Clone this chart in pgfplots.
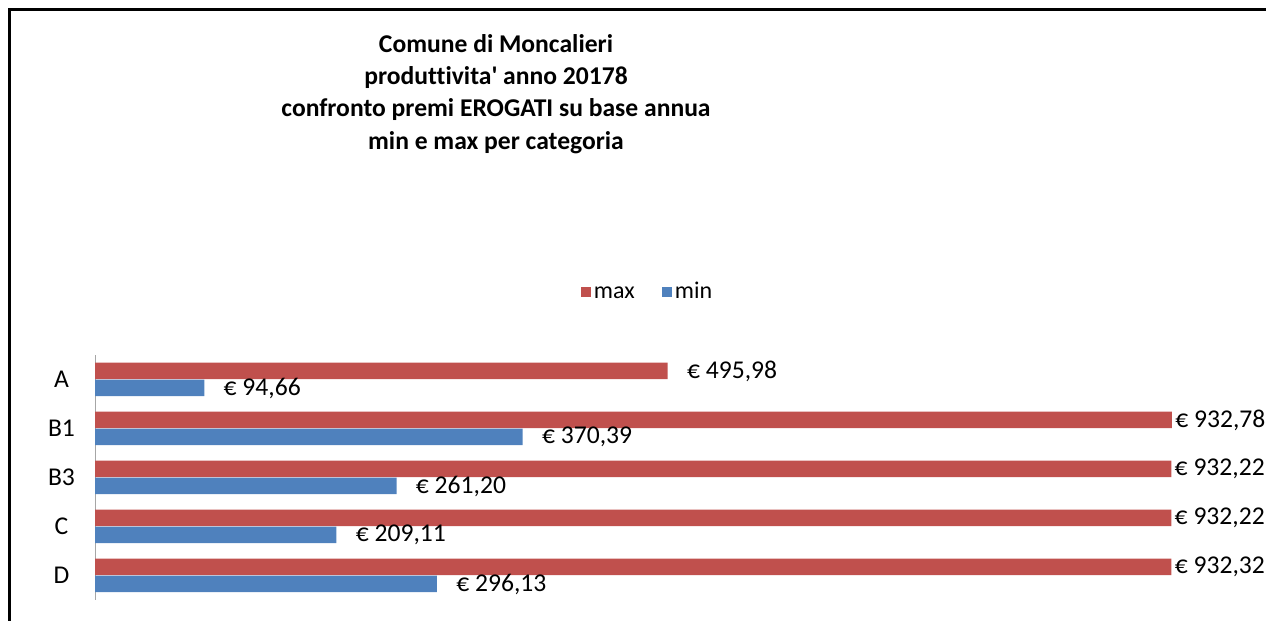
\documentclass[border=0pt]{standalone}
\usepackage{pgfplots}
\pgfplotsset{compat=1.18}
\usepackage{pgfplotstable}
\usepackage{fontspec}
\setmainfont{Carlito}[Ligatures=NoCommon]
\definecolor{cred}{HTML}{C0504D}
\definecolor{cblue}{HTML}{4F81BD}
\pgfplotstableread{
y v lab gap
4 495.98 495,98 9.5
3 932.78 932,78 1.5
2 932.22 932,22 1.5
1 932.22 932,22 1.5
0 932.32 932,32 1.5
}\maxdata
\pgfplotstableread{
y v lab gap
4 94.66 94,66 9.5
3 370.39 370,39 9.5
2 261.20 261,20 9.5
1 209.11 209,11 9.5
0 296.13 296,13 9.5
}\mindata
\begin{document}
\begin{tikzpicture}
\useasboundingbox (0,0) rectangle (633pt,310.5pt);
\draw[line width=1.5pt] (4.5pt,-1pt) -- (4.5pt,305.5pt) -- (640pt,305.5pt);
\node[align=center,font=\bfseries\fontsize{12.8}{16.1}\selectfont] at (248pt,263.5pt)
{Comune di Moncalieri\\produttivita\textquotesingle{} anno 20178\\confronto premi EROGATI su base annua\\min e max per categoria};
\begin{axis}[
  at={(47.5pt,10.5pt)}, anchor=south west,
  scale only axis, width=577.3pt, height=122.5pt,
  xbar, bar width=8.25pt,
  xmin=0, xmax=1000, ymin=-0.5, ymax=4.5,
  axis x line=none,
  axis y line*=left,
  y axis line style={draw=gray!70,-},
  ytick={0,1,2,3,4},
  yticklabels={D,C,B3,B1,A},
  ytick style={draw=none},
  yticklabel style={anchor=center,xshift=-12.5pt,font=\fontsize{12.8}{14}\selectfont},
  clip=false,
  point meta=explicit symbolic,
  visualization depends on={\thisrow{gap} \as \gap},
  nodes near coords={€~\pgfplotspointmeta},
  nodes near coords style={anchor=west,inner sep=0pt,xshift=\gap*1pt,font=\fontsize{12.8}{14}\selectfont,text=black},
  legend columns=2,
  legend style={at={(0.479,1)},anchor=center,yshift=31.5pt,draw=none,fill=none,
    font=\fontsize{12}{13}\selectfont,
    nodes={text height=1.6ex,text depth=0.3ex,inner xsep=1.5pt},
    /tikz/every even column/.append style={column sep=12pt}},
  legend image code/.code={\fill[#1] (0pt,-2.5pt) rectangle (5pt,2.5pt);},
]
\addplot[fill=cred,draw=none,bar shift=4.25pt] table[x=v,y=y,meta=lab] {\maxdata};
\addlegendentry{max}
\addplot[fill=cblue,draw=none,bar shift=-4.25pt] table[x=v,y=y,meta=lab] {\mindata};
\addlegendentry{min}
\end{axis}
\end{tikzpicture}
\end{document}
